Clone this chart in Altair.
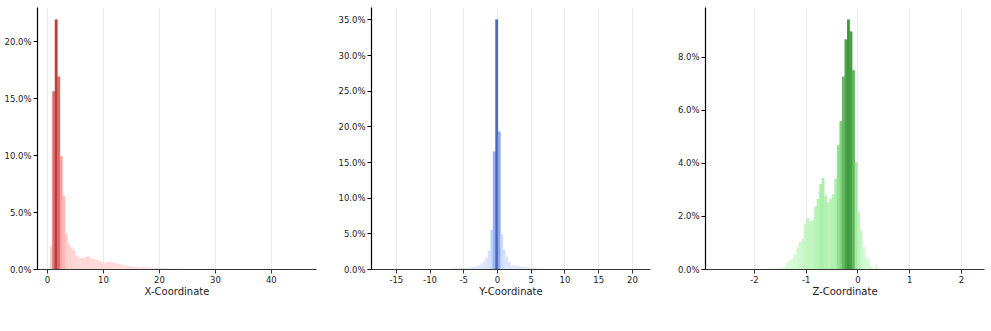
import altair as alt
import pandas as pd

# ---- data (percent of samples per bin, 100 bins per panel) ----
TITLES = ["X-Coordinate", "Y-Coordinate", "Z-Coordinate"]
DATA_RANGE = [[0.47, 45.8], [-16.8, 20.8], [-2.7, 2.2]]

X_PCT = [2.0, 15.6, 21.9, 16.9, 9.9, 6.4, 3.1, 2.2, 1.9, 1.65,
         1.2, 1.0, 1.0, 1.0, 1.05, 1.1, 0.9, 0.88, 0.8, 0.75,
         0.65, 0.5, 0.58, 0.65, 0.6, 0.55, 0.48, 0.45, 0.38, 0.35,
         0.3, 0.25, 0.2, 0.2, 0.22, 0.15, 0.15, 0.14, 0.12, 0.12,
         0.1, 0.1, 0.09, 0.08, 0.1, 0.06, 0.05, 0.04, 0.03, 0.03,
         0.02, 0.02, 0.02, 0.02, 0.01, 0.01, 0.01, 0.01, 0.01, 0.01,
         0.01, 0.01, 0.01, 0.01, 0.01, 0.01, 0.01, 0.01, 0.01, 0.01,
         0.01, 0.01, 0.01, 0.01, 0.01, 0.01, 0.01, 0.01, 0.01, 0.01,
         0.01, 0.01, 0.01, 0.01, 0.01, 0.01, 0.01, 0.01, 0.01, 0.01,
         0.01, 0.01, 0.01, 0.01, 0.01, 0.01, 0.01, 0.01, 0.01, 0.01]

Y_PCT = [0.01, 0.01, 0.01, 0.01, 0.01, 0.01, 0.01, 0.01, 0.01, 0.01,
         0.01, 0.01, 0.01, 0.01, 0.01, 0.01, 0.01, 0.01, 0.01, 0.01,
         0.01, 0.02, 0.02, 0.02, 0.03, 0.03, 0.04, 0.05, 0.2, 0.1,
         0.12, 0.12, 0.15, 0.25, 0.25, 0.3, 0.35, 0.5, 0.8, 1.15,
         1.6, 2.6, 5.5, 16.5, 35.0, 19.3, 4.9, 2.7, 1.7, 1.0,
         0.55, 0.45, 0.45, 0.42, 0.35, 0.3, 0.28, 0.22, 0.15, 0.1,
         0.06, 0.04, 0.03, 0.03, 0.02, 0.02, 0.02, 0.01, 0.01, 0.01,
         0.01, 0.01, 0.01, 0.01, 0.01, 0.01, 0.01, 0.01, 0.01, 0.01,
         0.01, 0.01, 0.01, 0.01, 0.01, 0.01, 0.01, 0.01, 0.01, 0.01,
         0.01, 0.01, 0.01, 0.01, 0.01, 0.01, 0.01, 0.01, 0.01, 0.01]

Z_PCT = [0.01, 0.0, 0.0, 0.0, 0.0, 0.0, 0.0, 0.0, 0.0, 0.0,
         0.0, 0.0, 0.0, 0.0, 0.0, 0.0, 0.0, 0.0, 0.01, 0.01,
         0.01, 0.01, 0.02, 0.02, 0.04, 0.04, 0.09, 0.26, 0.34, 0.39,
         0.56, 0.82, 1.02, 1.14, 1.69, 1.92, 1.79, 1.84, 2.35, 2.65,
         3.2, 3.43, 2.77, 2.52, 2.65, 2.82, 3.4, 4.68, 5.58, 7.26,
         8.66, 9.41, 8.96, 7.5, 4.03, 2.15, 1.44, 0.82, 0.44, 0.34,
         0.11, 0.04, 0.15, 0.01, 0.01, 0.0, 0.0, 0.0, 0.0, 0.0,
         0.0, 0.0, 0.0, 0.0, 0.0, 0.0, 0.0, 0.0, 0.0, 0.0,
         0.0, 0.0, 0.0, 0.0, 0.0, 0.0, 0.0, 0.0, 0.0, 0.0,
         0.0, 0.0, 0.0, 0.0, 0.0, 0.0, 0.0, 0.0, 0.0, 0.01]

SERIES = [X_PCT, Y_PCT, Z_PCT]
X_TICKS = [[0, 10, 20, 30, 40], [-15, -10, -5, 0, 5, 10, 15, 20], [-2, -1, 0, 1, 2]]
Y_TICKS = [[0, 5, 10, 15, 20], [0, 5, 10, 15, 20, 25, 30, 35], [0, 2, 4, 6, 8]]
COLOR_STOPS = [
    ["#ffdada", "#ff9494", "#b22222"],
    ["#dfe8fd", "#88a4f2", "#3457b0"],
    ["#d6fbd6", "#98ec98", "#228b22"],
]
MID_FRAC = [0.45, 0.5, 0.4]

FONT = "DejaVu Sans"
W, H = 279, 262


def panel(k):
    vals = SERIES[k]
    lo, hi = DATA_RANGE[k]
    n = len(vals)
    w = (hi - lo) / n
    df = pd.DataFrame({
        "start": [lo + i * w for i in range(n)],
        "end": [lo + i * w + 1.12 * w for i in range(n)],
        "pct": vals,
        "base": [0.0] * n,
    })
    span = hi - lo
    xdom = [lo - 0.05 * span, hi + 0.05 * span]
    vmax = max(vals)
    ydom = [0, vmax * 1.05]
    return alt.Chart(df).mark_rect(opacity=0.88).encode(
        x=alt.X("start:Q", title=TITLES[k],
                scale=alt.Scale(domain=xdom, nice=False, zero=False),
                axis=alt.Axis(values=X_TICKS[k], labelExpr="'' + datum.value",
                              grid=True)),
        x2="end:Q",
        y=alt.Y("pct:Q", title=None,
                scale=alt.Scale(domain=ydom, nice=False),
                axis=alt.Axis(values=Y_TICKS[k],
                              labelExpr="format(datum.value, '.1f') + '%'",
                              grid=False)),
        y2="base:Q",
        color=alt.Color("pct:Q", legend=None,
                        scale=alt.Scale(domain=[0, vmax * MID_FRAC[k], vmax],
                                        range=COLOR_STOPS[k])),
    ).properties(width=W, height=H)


chart = alt.hconcat(panel(0), panel(1), panel(2), spacing=21).resolve_scale(
    color="independent"
).properties(
    padding={"left": 3, "top": 7, "right": 5, "bottom": 5},
    background="white",
).configure_view(stroke=None).configure_axis(
    labelFont=FONT, titleFont=FONT, labelFontSize=8.5, titleFontSize=10,
    labelColor="#222222", titleColor="#222222", titleFontWeight="normal",
    tickSize=4, labelPadding=2,
).configure_axisX(
    domainColor="#333333", tickColor="#333333", gridColor="#ebebeb",
    titlePadding=3, domainWidth=1.2,
).configure_axisY(
    domainColor="#000000", tickColor="#000000", minExtent=34, maxExtent=34,
    domainWidth=1.2,
)

chart.save("out.html", embed_options={"renderer": "svg", "actions": False})
